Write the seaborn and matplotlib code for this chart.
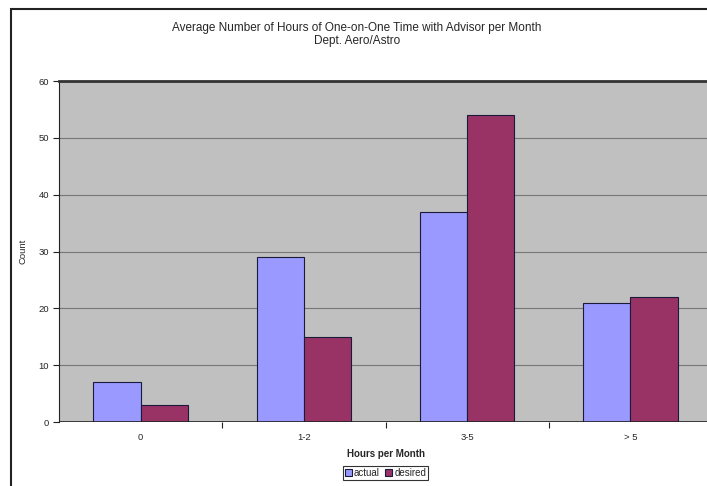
import pandas as pd
import matplotlib.pyplot as plt
import seaborn as sns
from matplotlib.patches import Rectangle
from matplotlib.ticker import FixedLocator

categories = ['0', '1-2', '3-5', '> 5']
actual = [7, 29, 37, 21]
desired = [3, 15, 54, 22]
series = ['actual', 'desired']
colors = ['#9999FF', '#993366']

df = pd.DataFrame({
    'Hours per Month': categories * 2,
    'Count': actual + desired,
    'kind': [series[0]] * len(categories) + [series[1]] * len(categories),
})

sns.set_style('white')
plt.rcParams['font.family'] = ['Liberation Sans', 'DejaVu Sans']

fig = plt.figure(figsize=(7.07, 4.86), dpi=100)
ax = fig.add_axes([59 / 707, 64 / 486, 653 / 707, 341 / 486])
ax.set_facecolor('#C0C0C0')

sns.barplot(data=df, x='Hours per Month', y='Count', hue='kind', order=categories,
            hue_order=series, palette=colors, saturation=1, width=0.58, gap=0,
            edgecolor='#1a1a3a', linewidth=0.8, ax=ax, zorder=3)

ax.set_xlim(-0.5, 3.5)
ax.set_ylim(0, 60)
ax.set_yticks(range(0, 61, 10))
ax.yaxis.grid(True, color='#777777', lw=0.8, zorder=0)
ax.set_axisbelow(True)

for s in ['right', 'bottom']:
    ax.spines[s].set_visible(False)
ax.spines['left'].set_color('#222222')
ax.spines['top'].set_color('#333333')
ax.spines['top'].set_linewidth(2)
ax.axhline(0, color='#222222', lw=1.2, zorder=5)

ax.tick_params(axis='y', left=True, length=4, width=0.8, color='#222222', labelsize=6.8, pad=3)
ax.tick_params(axis='x', which='major', length=0, labelsize=6.8, pad=8)
ax.xaxis.set_minor_locator(FixedLocator([0.5, 1.5, 2.5]))
ax.tick_params(axis='x', which='minor', bottom=True, length=4, width=0.8, color='#222222')

ax.set_ylabel('Count', fontsize=6.8, labelpad=8)
ax.set_xlabel('Hours per Month', fontsize=7, fontweight='bold', labelpad=5)

fig.text(357 / 707, 1 - 28 / 486, 'Average Number of Hours of One-on-One Time with Advisor per Month',
         ha='center', va='center', fontsize=8.5)
fig.text(357 / 707, 1 - 41 / 486, 'Dept. Aero/Astro', ha='center', va='center', fontsize=8.5)

leg = ax.legend(loc='upper center', bbox_to_anchor=(0.5, -0.13), ncol=2, fontsize=7,
                frameon=True, fancybox=False, edgecolor='black', handlelength=0.7,
                handleheight=0.7, handletextpad=0.2, columnspacing=0.6,
                borderpad=0.2, borderaxespad=0)
leg.get_frame().set_linewidth(0.8)

fig.add_artist(Rectangle((11 / 707, -0.05), 1.2, 1 - 9 / 486 + 0.05, fill=False,
                         lw=1.5, edgecolor='#222222', transform=fig.transFigure))

fig.savefig('out.png', dpi=100)
